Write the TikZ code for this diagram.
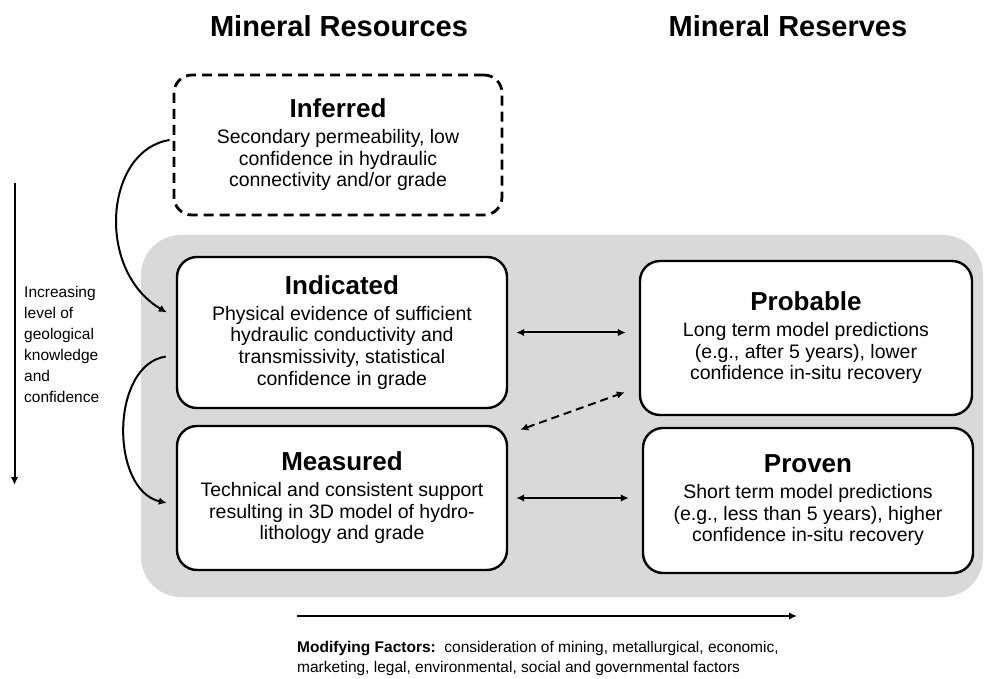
\documentclass[tikz,border=0pt]{standalone}
\usepackage{fontspec}
\setmainfont{Liberation Sans}
\usetikzlibrary{arrows.meta,calc}
\definecolor{panelgray}{HTML}{D9D9D9}
\newcommand\boxhead[1]{{\fontsize{26}{28}\selectfont\bfseries #1}\\[4pt]}
\begin{document}
\begin{tikzpicture}[x=1pt,y=-1pt,
  box/.style={draw=black, line width=2.4pt, fill=white, rounded corners=20pt,
    align=center, inner sep=0pt, font=\fontsize{19.5}{21.7}\selectfont},
  dbox/.style={box, dash pattern=on 10pt off 6pt, line width=2.8pt, rounded corners=18pt},
  link/.style={line width=2pt, -{Latex[length=8pt,width=7.5pt]}},
  dlink/.style={line width=2pt, {Latex[length=8pt,width=7.5pt]}-{Latex[length=8pt,width=7.5pt]}},
  title/.style={font=\fontsize{29}{32}\selectfont\bfseries, inner sep=0pt, anchor=base},
  side/.style={font=\fontsize{15.5}{21}\selectfont, align=left, inner sep=0pt}
]
\useasboundingbox (0,0) rectangle (989,679);

% titles
\node[title] (tres) at (339,37) {Mineral Resources};
\node[title] (tresv) at (788,37) {Mineral Reserves};

% grey panel
\node[fill=panelgray, rounded corners=40pt, minimum width=842pt, minimum height=362pt, inner sep=0pt] (panel) at (562,416) {};

% boxes
\node[dbox, minimum width=328pt, minimum height=140pt] (inf) at (338,145)
  {\boxhead{Inferred}Secondary permeability, low\\confidence in hydraulic\\connectivity and/or grade};
\node[box, minimum width=330pt, minimum height=151pt] (ind) at (342,332.5)
  {\boxhead{Indicated}Physical evidence of sufficient\\hydraulic conductivity and\\transmissivity, statistical\\confidence in grade};
\node[box, minimum width=330pt, minimum height=144pt] (mea) at (342,498)
  {\boxhead{Measured}Technical and consistent support\\resulting in 3D model of hydro-\\lithology and grade};
\node[box, minimum width=332pt, minimum height=154pt] (prob) at (806,338)
  {\boxhead{Probable}Long term model predictions\\(e.g., after 5 years), lower\\confidence in-situ recovery};
\node[box, minimum width=330pt, minimum height=145pt] (prov) at (808,500.5)
  {\boxhead{Proven}Short term model predictions\\(e.g., less than 5 years), higher\\confidence in-situ recovery};

% curved arrows on the left
\draw[link] ([shift={(-3,-5)}]inf.west) .. controls (105,150) and (95,270) .. ([xshift=-9pt,yshift=20pt]ind.west);
\draw[link] ([xshift=-10pt,yshift=-24pt]ind.west) .. controls (110,365) and (110,490) .. ([xshift=-9pt,yshift=-5pt]mea.west);

% horizontal double arrows
\draw[dlink] ([xshift=8pt]ind.east) -- ([xshift=-13pt]ind.east -| prob.west);
\draw[dlink] ([xshift=8pt]mea.east) -- ([xshift=-13pt]mea.east -| prov.west);
% dashed double arrow
\draw[dlink, dash pattern=on 8pt off 5pt] ([shift={(12,5)}]mea.north east) -- ([shift={(-14,-24)}]prob.south west);

% vertical arrow and label
\coordinate (vtop) at (14.5,183);
\coordinate (vbot) at (14.5,485);
\draw[link] (vtop) -- (vbot);
\node[side, anchor=west] (vlab) at (24,344) {Increasing\\level of\\geological\\knowledge\\and\\confidence};

% horizontal arrow and modifying factors
\coordinate (hl) at (297,616);
\coordinate (hr) at (797,616);
\draw[link] (hl) -- (hr);
\node[font=\fontsize{15.5}{20}\selectfont, align=left, inner sep=0pt, anchor=north west] (mod) at (297,641.5)
  {\textbf{Modifying Factors:}\ \ consideration of mining, metallurgical, economic,\\marketing, legal, environmental, social and governmental factors};
\end{tikzpicture}
\end{document}
